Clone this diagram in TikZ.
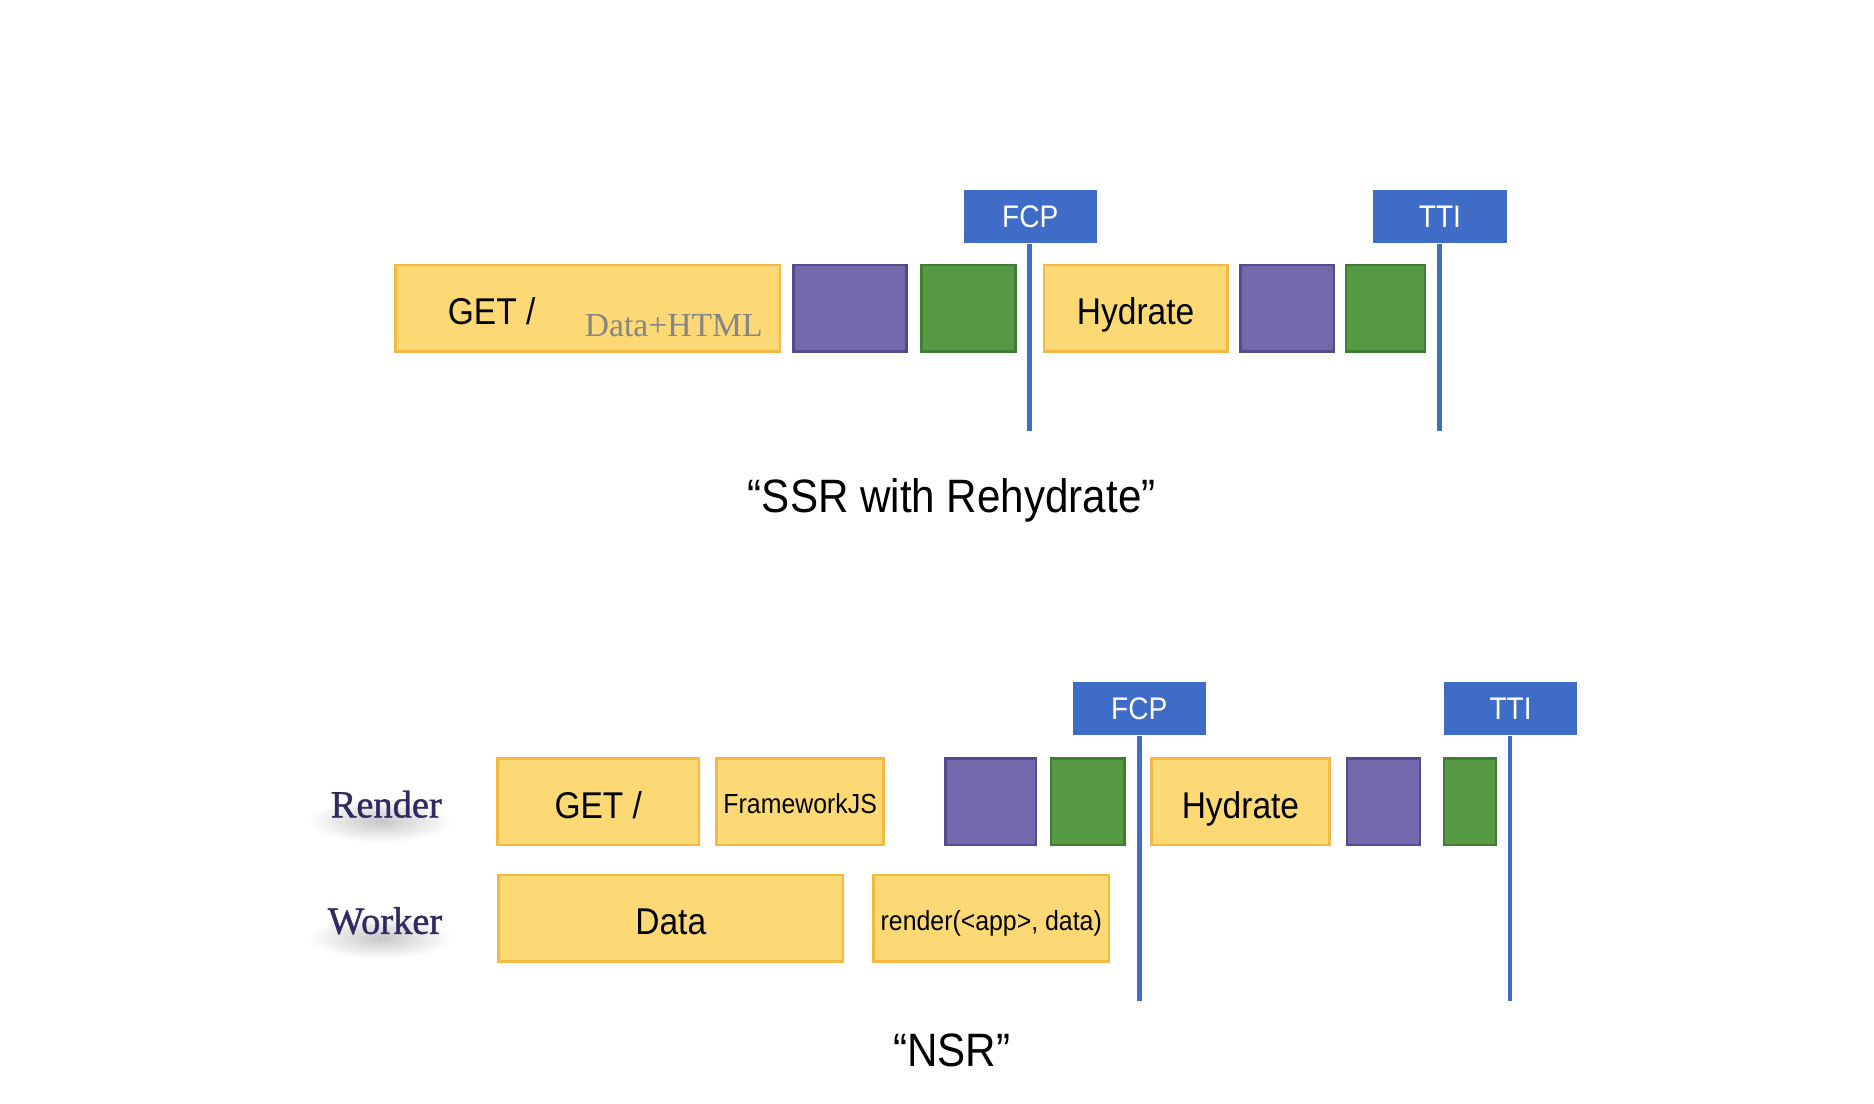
\documentclass[tikz,border=0pt]{standalone}
\usepackage{fontspec}
\setmainfont{Liberation Sans}[FakeStretch=0.9]
\newfontfamily\serifL{Liberation Serif}
\newfontfamily\serifLB{Liberation Serif}[FakeBold=1.1]
\definecolor{ylw}{HTML}{FCD974}
\definecolor{ylwb}{HTML}{F4B942}
\definecolor{prp}{HTML}{7468AC}
\definecolor{prpb}{HTML}{554A8A}
\definecolor{grn}{HTML}{569B44}
\definecolor{grnb}{HTML}{3E7D32}
\definecolor{blu}{HTML}{3F6CC7}
\definecolor{lbl}{HTML}{2E2A62}
\begin{document}
\begin{tikzpicture}[x=0.5pt,y=-0.5pt,
  blk/.style={line width=1pt, inner sep=0pt, outer sep=0pt, minimum height=36pt, text=black},
  ybox/.style={blk, fill=ylw, draw=ylwb},
  pbox/.style={blk, fill=prp, draw=prpb},
  gbox/.style={blk, fill=grn, draw=grnb},
  big/.style={font=\fontsize{15.5}{18}\selectfont, text height=13.5pt, text depth=0pt},
  small/.style={font=\fontsize{11.5}{14}\selectfont, text height=10pt, text depth=0pt},
  marker/.style={fill=blu, text=white, inner sep=0pt, minimum width=55.5pt, minimum height=22pt, font=\fontsize{13}{15}\selectfont},
  mline/.style={draw=blu, line width=2pt},
  title/.style={font=\fontsize{19.5}{23}\selectfont},
  lane/.style={text=lbl, font=\serifLB\fontsize{16}{19}\selectfont}
]
\useasboundingbox (0,0) rectangle (1560,919);
\fill[white] (0,0) rectangle (1560,919);

\begin{scope}[xscale=0.9973, shift={(-2.6,-2.5)}]
% ---------- SSR with Rehydrate ----------
\node[ybox, minimum width=160pt] (get1) at (493,259) {};
\node[big, inner sep=0pt] (get1t) at (413,259) {GET /};
\node[text=black!48, font=\serifL\fontsize{14}{16}\selectfont, inner sep=0pt, anchor=base] (dh) at (565,283) {Data+HTML};
\node[pbox, minimum width=47pt] (p1) at (712,259) {};
\node[gbox, minimum width=39pt] (g1) at (811,259) {};
\node[ybox, big, minimum width=76.5pt] (h1) at (950.5,259) {Hydrate};
\node[pbox, minimum width=39pt] (p2) at (1077,259) {};
\node[gbox, minimum width=33pt] (g2) at (1159,259) {};

\node[marker] (fcp1) at (862.5,183) {FCP};
\node[marker] (tti1) at (1204.5,183) {TTI};
\coordinate (fcp1e) at (862,361);
\coordinate (tti1e) at (1204,361);
\draw[mline] (fcp1.south -| fcp1e) -- (fcp1e);
\draw[mline] (tti1.south -| tti1e) -- (tti1e);

\node[title] (t1) at (797,419) {``SSR with Rehydrate''};

% ---------- NSR ----------
\shade[inner color=black!22, outer color=white] (320,686) ellipse (60 and 18);
\shade[inner color=black!22, outer color=white] (320,783) ellipse (60 and 18);
\node[lane] (render) at (325,672) {Render};
\node[lane] (worker) at (324,769) {Worker};

\node[ybox, big, minimum width=84pt] (get2) at (502,670) {GET /};
\node[ybox, small, minimum width=69.5pt] (fjs) at (670.5,670) {FrameworkJS};
\node[pbox, minimum width=37.5pt] (p3) at (829.5,670) {};
\node[gbox, minimum width=30.5pt] (g3) at (910.5,670) {};
\node[ybox, big, minimum width=74pt] (h2) at (1038,670) {Hydrate};
\node[pbox, minimum width=30.5pt] (p4) at (1157.5,670) {};
\node[gbox, minimum width=21.5pt] (g4) at (1229.5,670) {};

\node[ybox, big, minimum width=143.5pt] (data) at (562.5,767) {Data};
\node[ybox, small, minimum width=98pt] (rnd) at (830,767) {render(<app>, data)};

\node[marker] (fcp2) at (953.5,592.5) {FCP};
\node[marker] (tti2) at (1263.5,592.5) {TTI};
\coordinate (fcp2e) at (954,836);
\coordinate (tti2e) at (1263,836);
\draw[mline] (fcp2.south -| fcp2e) -- (fcp2e);
\draw[mline] (tti2.south -| tti2e) -- (tti2e);

\node[title] (t2) at (797,877) {``NSR''};
\end{scope}
\end{tikzpicture}
\end{document}
